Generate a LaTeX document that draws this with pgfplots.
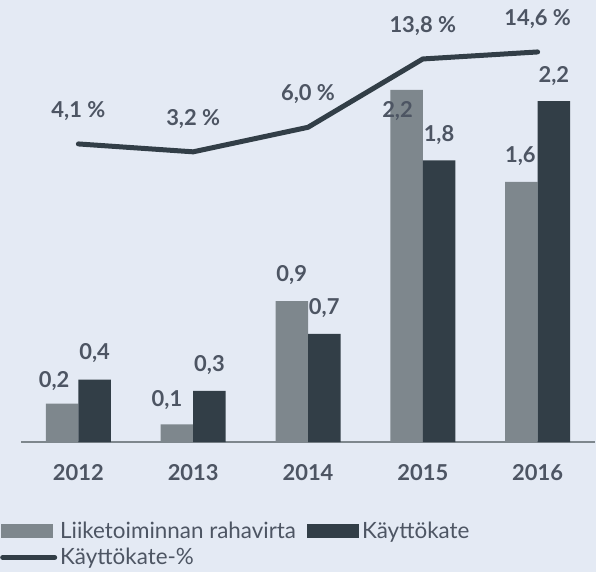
\documentclass[border=0pt]{standalone}
\usepackage{fontspec}
\setmainfont{Lato}
\usepackage{pgfplots}
\pgfplotsset{compat=1.18}
\usepackage{pgfplotstable}
\definecolor{bg}{HTML}{E4EAF4}
\definecolor{barA}{HTML}{7E878D}
\definecolor{barB}{HTML}{323E47}
\definecolor{txt}{HTML}{4D5563}

\pgfplotstableread{
x y m dx dy
0 0.24 0.2 -8 23
1 0.11 0.1 -10 24
2 0.88 0.9 0 26
3 2.20 2.2 -9 -21
4 1.625 1.6 -1 26
}\tabA
\pgfplotstableread{
x y m dx dy
0 0.39 0.4 0 27
1 0.32 0.3 0 26
2 0.675 0.7 0 26
3 1.76 1.8 0 25
4 2.13 2.2 0 25.5
}\tabB
\pgfplotstableread{
x y
0 4.1
1 3.2
2 6.0
3 13.8
4 14.6
}\tabC

\pgfplotsset{
  common/.style={
    scale only axis, width=574bp, height=432bp,
    at={(21bp,130bp)}, anchor=south west,
    xmin=-0.5, xmax=4.5, clip=false,
    /pgf/number format/assume math mode=true,
  },
  barlabels/.style={
    point meta=explicit,
    nodes near coords={\pgfmathprintnumber[fixed,fixed zerofill,precision=1,use comma]{\pgfplotspointmeta}},
    visualization depends on={\thisrow{dx}\as\dx},
    visualization depends on={\thisrow{dy}\as\dy},
    every node near coord/.append style={anchor=center, xshift=\dx bp, yshift=\dy bp,
      font=\fontsize{22}{25}\selectfont\bfseries, text=txt},
  },
  legA/.style={legend image code/.code={\fill[barA] (0bp,-7bp) rectangle (52bp,7bp);}},
  legB/.style={legend image code/.code={\fill[barB] (0bp,-7bp) rectangle (52bp,7bp);}},
  legC/.style={legend image code/.code={\draw[barB, line width=5bp, line cap=round] (2bp,0bp) -- (54bp,0bp);}},
}

\begin{document}
\begin{tikzpicture}
\fill[bg] (0,0) rectangle (596bp,572bp);
\begin{axis}[common,
  ymin=0, ymax=2.7,
  ybar=0pt, bar width=32.5bp,
  axis x line*=bottom, axis y line=none,
  x axis line style={barA, line width=1.5bp, -},
  major tick length=0pt,
  xtick={0,1,2,3,4},
  xticklabels={2012,2013,2014,2015,2016},
  xticklabel style={anchor=center, yshift=-31bp, font=\fontsize{22}{25}\selectfont\bfseries, text=txt},
  legend columns=2,
  legend style={at={(-0.0366,-0.181)}, anchor=north west, draw=none, fill=none,
    font=\fontsize{22.5}{25}\selectfont, text=txt, inner sep=0pt,
    /tikz/every odd column/.append style={column sep=1bp},
    /tikz/every even column/.append style={column sep=9bp},
    row sep=4bp},
  legend cell align=left,
]
\addplot[fill=barA, draw=none, barlabels, legA] table[x=x, y=y, meta=m] {\tabA};
\addlegendentry{Liiketoiminnan rahavirta}
\addplot[fill=barB, draw=none, barlabels, legB] table[x=x, y=y, meta=m] {\tabB};
\addlegendentry{Käyttökate}
\addlegendimage{legC}
\addlegendentry{Käyttökate-\%}
\end{axis}
\begin{axis}[common,
  ymin=-29.92, ymax=19.39,
  axis lines=none,
]
\addplot[barB, line width=5bp, line cap=round, line join=round, mark=none,
  point meta=explicit,
  nodes near coords={\pgfmathprintnumber[fixed,fixed zerofill,precision=1,use comma]{\pgfplotspointmeta}\ \%},
  every node near coord/.append style={anchor=center, yshift=33bp,
    font=\fontsize{22}{25}\selectfont\bfseries, text=txt},
] table[x=x, y=y, meta=y] {\tabC};
\end{axis}
\pgfresetboundingbox
\path[use as bounding box] (0,0) rectangle (596bp,572bp);
\end{tikzpicture}
\end{document}
